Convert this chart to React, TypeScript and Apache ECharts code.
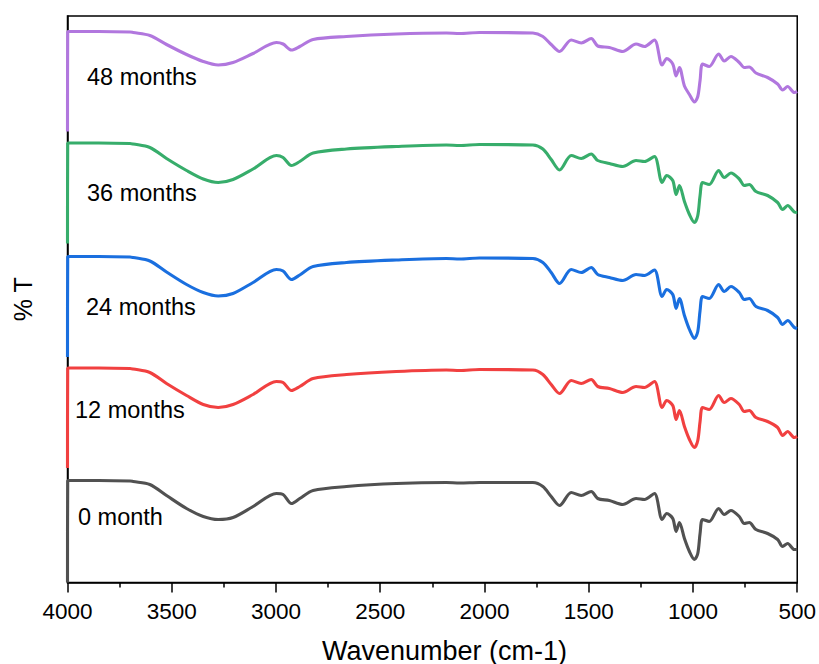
import React, { useEffect, useRef } from "react";
import * as echarts from "echarts";

const wavenumbers = [
  4000, 3999, 3850, 3700, 3685, 3605, 3525, 3429, 3349, 3277,
  3206, 3110, 2998, 2966, 2926, 2886, 2822, 2662, 2423, 2183,
  2119, 2024, 1768, 1720, 1680, 1640, 1584, 1536, 1488, 1457,
  1401, 1337, 1273, 1233, 1185, 1148, 1126, 1097, 1081, 1065,
  1041, 1017, 993, 977, 966, 954, 922, 877, 850, 818,
  778, 754, 730, 698, 642, 594, 570, 546, 514, 500,
];

const month0 = [
  0, 102, 102, 101.5, 101, 98, 87, 74, 66, 63,
  65, 76, 89, 88, 79, 84, 92, 96, 99, 100,
  99.5, 100, 100, 96, 86, 77, 90, 87, 91, 84,
  82, 78, 84, 83, 89, 63, 69, 64, 51, 60,
  44, 31, 23, 29, 49, 63, 61, 74, 68, 72,
  66, 59, 60, 53, 49, 43, 36, 39, 33, 33,
];

const month12 = [
  114.5, 214.5, 214.5, 214, 213.5, 210, 199, 187, 178, 175,
  178, 188, 201, 200, 192, 196, 204, 208, 211, 212.5,
  212, 213, 212.5, 208, 198, 189, 202, 199, 203, 196,
  194, 190, 196, 195, 201, 175, 182, 177, 163, 172,
  156, 143, 135, 142, 161, 175, 173, 187, 180, 184,
  178, 171, 172, 165, 161, 155, 147, 151, 145, 146,
];

const month24 = [
  225.5, 326, 326, 325.5, 325, 321.5, 310.5, 298, 290, 286.5,
  289, 300, 313, 311.5, 303, 307.5, 316, 320, 322.5, 324,
  323.5, 324.5, 324, 320, 310, 299, 313, 310, 315, 308,
  305, 302, 308, 307, 312.5, 286, 293, 288, 274, 284,
  267, 253, 244, 251, 272, 286, 284, 298, 291, 296,
  290, 283, 284, 276, 272, 265, 258, 262, 255, 254,
];

const month36 = [
  339, 439.5, 439.5, 439, 438.5, 435, 424, 412, 403.5, 400,
  403, 413.5, 427, 425, 417, 421, 429.5, 433.5, 436, 437.5,
  437, 438, 437.5, 433.5, 423, 412.5, 427, 424, 428.5, 422,
  419, 416, 422, 421, 426, 400, 407, 402, 388, 397,
  381, 368, 360, 367, 387, 400, 398, 412, 405, 409.5,
  403.5, 397, 398, 391, 387, 380, 373, 377, 370.5, 370,
];

const month48 = [
  451, 551, 551, 550.5, 550, 547, 538, 528, 521, 517.5,
  520, 529, 540, 538.5, 532.5, 536, 543, 546, 548.5, 549.5,
  549, 550, 549.5, 546, 538, 531, 542.5, 539.5, 544, 536.5,
  535, 531, 538.5, 536, 542.5, 517.5, 524, 518.5, 506.5, 515,
  496.5, 488, 480.5, 486, 502, 518.5, 516, 528.5, 521.5, 526,
  520, 515, 515.5, 509.5, 505, 498.5, 492.5, 496, 490, 491,
];

const seriesNames = ["0 month", "12 months", "24 months", "36 months", "48 months"];
const seriesValues = [month0, month12, month24, month36, month48];
const seriesColors = ["#515151", "#F14040", "#1A6FDF", "#37AD6B", "#B177DE"];
const labelPos = [
  [78, 517],
  [75, 410],
  [86, 307],
  [87, 193],
  [87, 77],
];

const xTicks = [4000, 3500, 3000, 2500, 2000, 1500, 1000, 500];
const xTitle = "Wavenumber (cm-1)";
const yTitle = "% T";

export default function App() {
  const ref = useRef<HTMLDivElement>(null);

  useEffect(() => {
    if (!ref.current) return;
    const chart = echarts.init(ref.current, undefined, { renderer: "svg" });
    const font = "Arial, 'Liberation Sans', Helvetica, sans-serif";
    chart.setOption({
      animation: false,
      backgroundColor: "#ffffff",
      grid: {
        left: 67.5,
        right: 21,
        top: 16,
        bottom: 81.5,
        show: true,
        borderColor: "#000",
        borderWidth: 1.5,
        backgroundColor: "transparent",
      },
      xAxis: {
        type: "value",
        inverse: true,
        min: 500,
        max: 4000,
        interval: 500,
        axisLine: { show: true, lineStyle: { color: "#000", width: 1.5 } },
        axisTick: { show: true, length: 10, lineStyle: { color: "#000", width: 1.5 } },
        minorTick: { show: true, splitNumber: 2, length: 5, lineStyle: { color: "#000", width: 1.5 } },
        axisLabel: {
          fontSize: 22.5,
          color: "#000",
          fontFamily: font,
          margin: 17,
          formatter: (v: number) => (xTicks.includes(v) ? String(v) : ""),
        },
        splitLine: { show: false },
      },
      yAxis: {
        type: "value",
        min: 0,
        max: 566.5,
        name: yTitle,
        nameLocation: "middle",
        nameGap: 32,
        nameRotate: 90,
        nameTextStyle: { fontSize: 25, color: "#000", fontFamily: font },
        axisLine: { show: true, lineStyle: { color: "#000", width: 1.5 } },
        axisTick: { show: false },
        axisLabel: { show: false },
        splitLine: { show: false },
      },
      series: seriesNames.map((name, i) => ({
        name,
        type: "line",
        showSymbol: false,
        smooth: 0.3,
        color: seriesColors[i],
        lineStyle: { color: seriesColors[i], width: 3.1 },
        data: wavenumbers.map((w, j) => [w, seriesValues[i][j]]),
        z: 2,
      })),
      graphic: [
        ...seriesNames.map((name, i) => ({
          type: "text",
          left: labelPos[i][0],
          top: labelPos[i][1] - 12.5,
          style: {
            text: name,
            fontSize: 23.5,
            fontFamily: font,
            fill: "#000",
          },
          z: 10,
        })),
        {
          type: "text",
          left: 322,
          top: 637,
          style: { text: xTitle, fontSize: 27, fontFamily: font, fill: "#000" },
          z: 10,
        },
      ],
    });
    return () => chart.dispose();
  }, []);

  return (
    <div
      ref={ref}
      style={{ position: "absolute", left: 0, top: 0, width: 819, height: 664 }}
    />
  );
}
